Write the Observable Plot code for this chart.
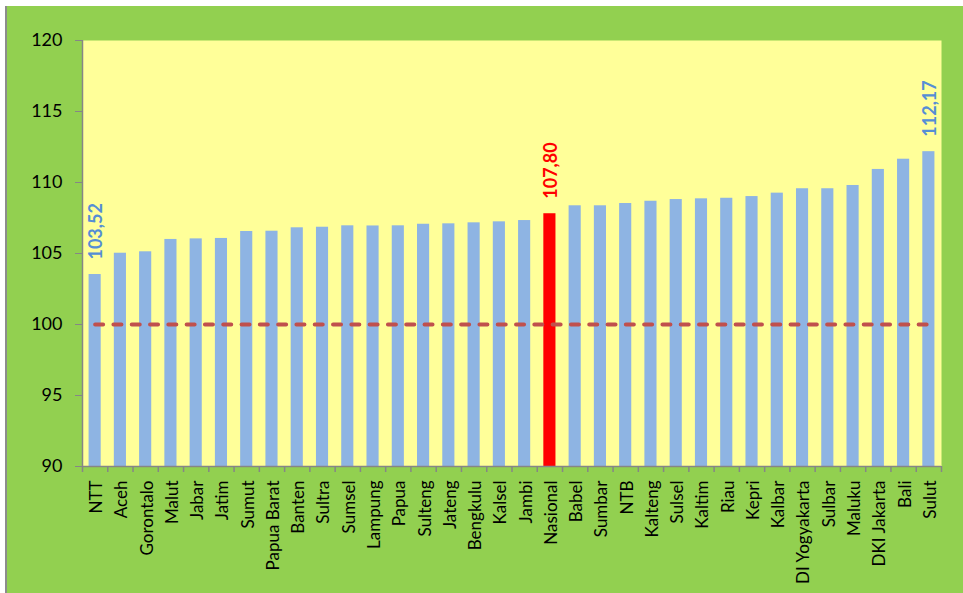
<!DOCTYPE html>
<html><head><meta charset="utf-8">
<script src="https://cdn.jsdelivr.net/npm/d3@7"></script>
<script src="https://cdn.jsdelivr.net/npm/@observablehq/plot@0.6"></script>
<style>
html,body{margin:0;padding:0;background:#fff;}
#wrap{position:relative;width:963px;height:593px;overflow:hidden;}
#bg{position:absolute;left:5px;top:6px;right:0;bottom:0;background:#92D050;border-left:2px solid #8c8c8c;}
#chart{position:absolute;left:0;top:0;}
</style></head><body>
<div id="wrap"><div id="bg"></div><div id="chart"></div></div>
<script>
const provinces = ["NTT","Aceh","Gorontalo","Malut","Jabar","Jatim","Sumut","Papua Barat","Banten","Sultra","Sumsel","Lampung","Papua","Sulteng","Jateng","Bengkulu","Kalsel","Jambi","Nasional","Babel","Sumbar","NTB","Kalteng","Sulsel","Kaltim","Riau","Kepri","Kalbar","DI Yogyakarta","Sulbar","Maluku","DKI Jakarta","Bali","Sulut"];
const values = [103.52,105.02,105.12,105.99,106.03,106.06,106.55,106.57,106.81,106.85,106.95,106.94,106.95,107.06,107.09,107.16,107.23,107.32,107.80,108.36,108.36,108.52,108.68,108.80,108.85,108.89,109.01,109.25,109.56,109.56,109.79,110.92,111.64,112.17];
const highlighted = "Nasional";
const labeledProvinces = ["NTT","Nasional","Sulut"];
const yTicks = [90,95,100,105,110,115,120];
const yDomain = [90,120];
const referenceValue = 100;

const data = provinces.map((p,i) => ({province: p, value: values[i]}));
const refLine = provinces.map(p => ({province: p, value: referenceValue}));
const labelData = data.filter(d => labeledProvinces.includes(d.province));

const W = 963, H = 593, mL = 82, mR = 22, mT = 40, mB = 127;
const plotW = W - mL - mR, plotH = H - mT - mB;
const step = plotW / provinces.length;
const axisGray = "#868686";
const fmt = v => v.toFixed(2).replace(".", ",");

const chart = Plot.plot({
  width: W, height: H,
  marginLeft: mL, marginRight: mR, marginTop: mT, marginBottom: mB,
  style: {background: "none", fontFamily: "Lato, 'Open Sans', sans-serif", color: "black"},
  x: {domain: provinces, paddingInner: 0.52, paddingOuter: 0.26, round: false, label: null},
  y: {domain: yDomain, label: null},
  color: {type: "identity"},
  marks: [
    Plot.frame({fill: "#FFFF99", stroke: null}),
    Plot.barY(data, {x: "province", y1: yDomain[0], y2: "value",
      fill: d => d.province === highlighted ? "#FF0000" : "#8EB4E3"}),
    Plot.lineY(refLine, {x: "province", y: "value", stroke: "#C0504D", strokeWidth: 4,
      strokeDasharray: "8,10.3", strokeLinecap: "round"}),
    Plot.ruleY([yDomain[0]], {stroke: axisGray, strokeWidth: 1.5}),
    Plot.ruleX([provinces[0]], {x: d => d, dx: -step/2, stroke: axisGray, strokeWidth: 1.5}),
    Plot.ruleX(provinces, {x: d => d, dx: -step/2, insetTop: plotH, insetBottom: -6, stroke: axisGray, strokeWidth: 1.5}),
    Plot.ruleX([provinces[provinces.length-1]], {x: d => d, dx: step/2, insetTop: plotH, insetBottom: -6, stroke: axisGray, strokeWidth: 1.5}),
    Plot.axisY({ticks: yTicks, tickSize: 7, tickPadding: 13, fontSize: 18, stroke: axisGray, fill: "black", label: null}),
    Plot.axisX({tickSize: 0, tickPadding: 14, tickRotate: -90, fontSize: 17, fill: "black", dx: 1.5, label: null}),
    Plot.text(labelData, {x: "province", y: "value", text: d => fmt(d.value), rotate: -90,
      textAnchor: "start", lineAnchor: "middle", dx: 1.5, dy: -15, fontSize: 18, fontWeight: "bold",
      fill: d => d.province === highlighted ? "#FF0000" : "#558ED5"})
  ]
});
document.getElementById("chart").appendChild(chart);
</script>
</body></html>
